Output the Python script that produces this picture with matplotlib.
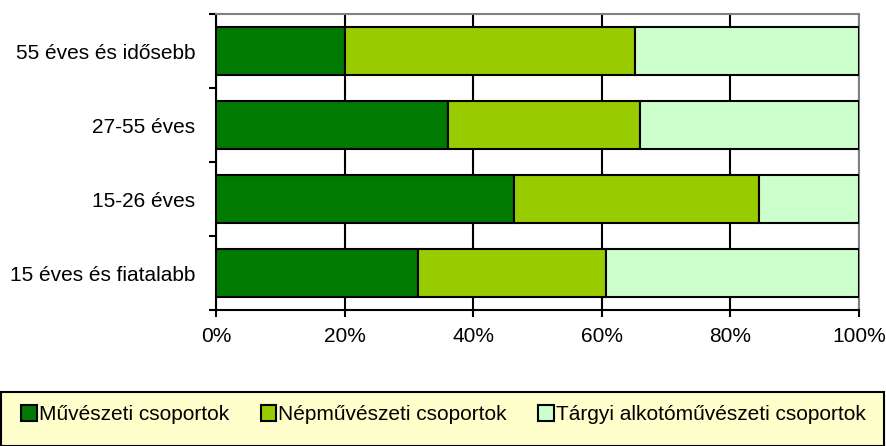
import numpy as np
import matplotlib.pyplot as plt
from matplotlib.patches import Rectangle

plt.rcParams['font.family'] = ['Liberation Sans', 'DejaVu Sans']

categories = ['15 éves és fiatalabb', '15-26 éves', '27-55 éves', '55 éves és idősebb']
muveszeti = [31.4, 46.3, 36.1, 20.1]
nepmuveszeti = [29.3, 38.1, 29.9, 45.1]
targyi = [39.3, 15.6, 34.0, 34.8]
series_names = ['Művészeti csoportok', 'Népművészeti csoportok', 'Tárgyi alkotóművészeti csoportok']
colors = ['#007A00', '#99CC00', '#CCFFCC']
xticks = [0, 20, 40, 60, 80, 100]

fig = plt.figure(figsize=(8.87, 4.46), dpi=100)
ax = fig.add_axes([0.2435, 0.3049, 0.7249, 0.6637])

y = np.arange(len(categories))
left = np.zeros(len(categories))
handles = []
for vals, name, c in zip([muveszeti, nepmuveszeti, targyi], series_names, colors):
    h = ax.barh(y, vals, left=left, height=0.65, color=c, edgecolor='black',
                linewidth=1.5, label=name, zorder=3)
    handles.append(h)
    left = left + np.array(vals)

ax.set_xlim(0, 100)
ax.set_ylim(-0.5, len(categories) - 0.5)
ax.set_xticks(xticks)
ax.set_xticklabels([f'{t}%' for t in xticks], fontsize=15)
ax.set_yticks(y)
ax.set_yticklabels(categories, fontsize=15)
ax.set_yticks(np.arange(-0.5, len(categories)), minor=True)
ax.tick_params(axis='y', which='major', length=0, pad=15)
ax.tick_params(axis='y', which='minor', length=5, width=1.5, direction='out')
ax.tick_params(axis='x', length=5, width=1.5, direction='out', pad=7)
ax.xaxis.grid(True, color='black', linewidth=1.5, zorder=0)
ax.set_axisbelow(True)

for s in ['top', 'right']:
    ax.spines[s].set_color('#808080')
    ax.spines[s].set_linewidth(1.5)
for s in ['left', 'bottom']:
    ax.spines[s].set_color('black')
    ax.spines[s].set_linewidth(1.5)

# legend box
fig.patches.append(Rectangle((0.001, 0.0), 0.996, 0.121, transform=fig.transFigure,
                             facecolor='#FFFFCC', edgecolor='black', linewidth=1.5, zorder=0))
fig.legend(handles=handles, loc='center', bbox_to_anchor=(0.5, 0.07), ncol=3,
           frameon=False, fontsize=15, handlelength=0.75, handleheight=0.75,
           handletextpad=0.1, columnspacing=1.5)

fig.savefig('out.png', dpi=100)
